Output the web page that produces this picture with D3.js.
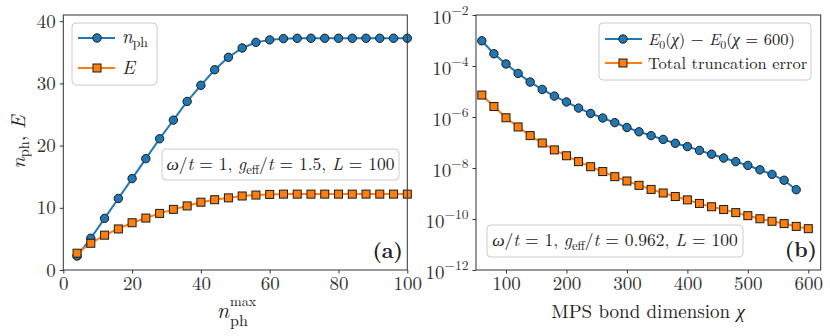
<!DOCTYPE html>
<html>
<head>
<meta charset="utf-8">
<script src="https://cdn.jsdelivr.net/npm/d3@7"></script>
<style>
body { margin: 0; background: #fff; }
</style>
</head>
<body>
<svg width="830" height="336"></svg>
<script>
// panel (a): photon number and energy vs n_ph^max
var nmax = [4, 8, 12, 16, 20, 24, 28, 32, 36, 40, 44, 48, 52, 56, 60, 64, 68, 72, 76, 80, 84, 88, 92, 96, 100];
var nph = [2.25, 5.1, 8.3, 11.5, 14.7, 17.9, 21.1, 24.1, 27.1, 29.7, 32.2, 34.2, 35.7, 36.6, 37.0, 37.2, 37.25, 37.26, 37.26, 37.26, 37.26, 37.26, 37.26, 37.26, 37.26];
var energy = [2.7, 4.3, 5.6, 6.6, 7.6, 8.35, 9.1, 9.75, 10.3, 10.9, 11.3, 11.6, 11.9, 12.05, 12.15, 12.2, 12.2, 12.2, 12.2, 12.2, 12.2, 12.2, 12.2, 12.2, 12.2];
var aXTicks = [0, 20, 40, 60, 80, 100];
var aYTicks = [0, 10, 20, 30, 40];

// panel (b): convergence vs bond dimension (log10 values)
var chiE = [60, 80, 100, 120, 140, 160, 180, 200, 220, 240, 260, 280, 300, 320, 340, 360, 380, 400, 420, 440, 460, 480, 500, 520, 540, 560, 580];
var logDE = [-3.01, -3.52, -3.92, -4.29, -4.63, -4.92, -5.18, -5.41, -5.65, -5.86, -6.04, -6.22, -6.41, -6.58, -6.73, -6.88, -7.03, -7.16, -7.31, -7.46, -7.61, -7.75, -7.90, -8.07, -8.25, -8.48, -8.85];
var chiT = [60, 80, 100, 120, 140, 160, 180, 200, 220, 240, 260, 280, 300, 320, 340, 360, 380, 400, 420, 440, 460, 480, 500, 520, 540, 560, 580, 600];
var logTrunc = [-5.14, -5.59, -6.03, -6.39, -6.73, -7.02, -7.29, -7.52, -7.75, -7.95, -8.14, -8.34, -8.51, -8.68, -8.84, -8.98, -9.12, -9.25, -9.39, -9.52, -9.63, -9.75, -9.87, -9.99, -10.09, -10.18, -10.29, -10.38];
var bXTicks = [100, 200, 300, 400, 500, 600];
var bYExp = [-2, -4, -6, -8, -10, -12];

var blue = "#1f77b4", orange = "#ff7f0e";
var serif = "'Latin Modern Roman', 'Liberation Serif', serif";
var svg = d3.select("svg").style("font-family", serif);

var xa = d3.scaleLinear().domain([0, 100]).range([63.3, 407.3]),
    ya = d3.scaleLinear().domain([0, 41]).range([270, 15]);
var xb = d3.scaleLinear().domain([50.4, 620.5]).range([476, 820.7]),
    yb = d3.scaleLog().domain([1e-12, 1e-2]).range([270, 15]);

function frame(x, y) {
    svg.append("rect")
        .attr("x", x.range()[0]).attr("y", y.range()[1])
        .attr("width", x.range()[1] - x.range()[0])
        .attr("height", y.range()[0] - y.range()[1])
        .attr("fill", "none").attr("stroke", "#333").attr("stroke-width", 1);
}

function styleAxis(g) {
    g.style("font-family", serif).attr("font-size", 19);
    g.select(".domain").remove();
    g.selectAll(".tick line").attr("stroke", "#333");
    g.selectAll(".tick text").attr("fill", "#333");
}

// series drawing: line + markers
function series(xs, ys, x, y, color, shape) {
    var pts = xs.map(function(d, i) { return [x(d), y(ys[i])]; });
    svg.append("path")
        .attr("d", d3.line()(pts))
        .attr("fill", "none").attr("stroke", color).attr("stroke-width", 2);
    pts.forEach(function(p) { marker(p[0], p[1], color, shape); });
}

function marker(cx, cy, color, shape) {
    if (shape == "circle") {
        svg.append("circle").attr("cx", cx).attr("cy", cy).attr("r", 4.2)
            .attr("fill", color).attr("stroke", "#1a1a1a").attr("stroke-width", 1);
    } else {
        svg.append("rect").attr("x", cx - 4).attr("y", cy - 4)
            .attr("width", 8).attr("height", 8)
            .attr("fill", color).attr("stroke", "#1a1a1a").attr("stroke-width", 1);
    }
}

// rich text: parts = [text, style] where style: i italic, s sub, r shift back
function rich(x, y, parts, size, anchor) {
    var t = svg.append("text").attr("x", x).attr("y", y)
        .style("font-family", serif)
        .attr("font-size", size).attr("fill", "#222")
        .attr("text-anchor", anchor || "start");
    parts.forEach(function(p) {
        var s = t.append("tspan").text(p[0]);
        var st = p[1] || "";
        if (st.indexOf("i") >= 0) s.attr("font-style", "italic");
        if (st.indexOf("s") >= 0) s.attr("font-size", size * 0.72).attr("dy", size * 0.22);
        if (st.indexOf("r") >= 0) s.attr("dy", p[2]);
    });
    return t;
}

function plain(x, y, str, size, anchor) {
    return svg.append("text").attr("x", x).attr("y", y)
        .style("font-family", serif).attr("font-size", size)
        .attr("fill", "#222").attr("text-anchor", anchor || "start").text(str);
}

function box(x, y, w, h) {
    svg.append("rect").attr("x", x).attr("y", y).attr("width", w).attr("height", h)
        .attr("rx", 4).attr("fill", "#fff").attr("fill-opacity", 0.8)
        .attr("stroke", "#ccc").attr("stroke-width", 1);
}

// ---------- panel (a)
svg.append("g").attr("transform", "translate(0,270)")
    .call(d3.axisBottom(xa).tickValues(aXTicks).tickSize(3.5).tickPadding(3))
    .call(styleAxis);
svg.append("g").attr("transform", "translate(63.3,0)")
    .call(d3.axisLeft(ya).tickValues(aYTicks).tickSize(3.5).tickPadding(4))
    .call(styleAxis);

series(nmax, nph, xa, ya, blue, "circle");
series(nmax, energy, xa, ya, orange, "square");
frame(xa, ya);

box(72, 23, 85, 62);
svg.append("line").attr("x1", 78).attr("x2", 115).attr("y1", 38).attr("y2", 38).attr("stroke", blue).attr("stroke-width", 2);
marker(97, 38, blue, "circle");
svg.append("line").attr("x1", 78).attr("x2", 115).attr("y1", 68).attr("y2", 68).attr("stroke", orange).attr("stroke-width", 2);
marker(97, 68, orange, "square");
rich(122, 43, [["n", "i"], ["ph", "s"]], 19);
rich(122, 74, [["E", "i"]], 19);

box(162, 149, 237, 31);
rich(280.5, 170, [["ω", "i"], ["/"], ["t", "i"], [" = 1, "], ["g", "i"], ["eff", "s"], ["/", "r", -3.8], ["t", "i"], [" = 1.5, "], ["L", "i"], [" = 100"]], 17.5, "middle");

plain(403, 258, "(a)", 21, "end").attr("font-weight", "bold");

// x label n_ph^max
plain(229, 318, "n", 22, "end").attr("font-style", "italic");
plain(230, 326, "ph", 16);
plain(230, 306, "max", 14);

rich(0, 0, [["n", "i"], ["ph", "s"], [", ", "r", -4], ["E", "i"]], 20, "middle")
    .attr("transform", "translate(25,142) rotate(-90)");

// ---------- panel (b)
svg.append("g").attr("transform", "translate(0,270)")
    .call(d3.axisBottom(xb).tickValues(bXTicks).tickSize(3.5).tickPadding(3))
    .call(styleAxis);
var gy = svg.append("g").attr("transform", "translate(476,0)")
    .call(d3.axisLeft(yb).tickValues(bYExp.map(function(e) { return Math.pow(10, e); }))
        .tickSize(3.5).tickPadding(4).tickFormat(""))
    .call(styleAxis);
gy.selectAll(".tick").each(function(d) {
    var e = Math.round(Math.log10(d));
    var t = d3.select(this).select("text").attr("dy", "0.45em");
    t.append("tspan").text("10");
    t.append("tspan").text("−" + (-e)).attr("font-size", 13.5).attr("dy", -9);
});

series(chiE, logDE.map(function(v) { return Math.pow(10, v); }), xb, yb, blue, "circle");
series(chiT, logTrunc.map(function(v) { return Math.pow(10, v); }), xb, yb, orange, "square");
frame(xb, yb);

box(599, 23, 212, 57);
svg.append("line").attr("x1", 605).attr("x2", 642).attr("y1", 39).attr("y2", 39).attr("stroke", blue).attr("stroke-width", 2);
marker(623, 39, blue, "circle");
svg.append("line").attr("x1", 605).attr("x2", 642).attr("y1", 63).attr("y2", 63).attr("stroke", orange).attr("stroke-width", 2);
marker(623, 63, orange, "square");
rich(648, 45, [["E", "i"], ["0", "s"], ["(", "r", -3.6], ["χ", "i"], [") − "], ["E", "i"], ["0", "s"], ["(", "r", -3.6], ["χ", "i"], [" = 600)"]], 16.5);
plain(648, 69, "Total truncation error", 16.5);

box(487, 225, 256, 32);
rich(615, 246, [["ω", "i"], ["/"], ["t", "i"], [" = 1, "], ["g", "i"], ["eff", "s"], ["/", "r", -3.8], ["t", "i"], [" = 0.962, "], ["L", "i"], [" = 100"]], 17.5, "middle");

plain(817, 257, "(b)", 21, "end").attr("font-weight", "bold");

rich(648, 318, [["MPS bond dimension "], ["χ", "i"]], 19, "middle");
</script>
</body>
</html>
